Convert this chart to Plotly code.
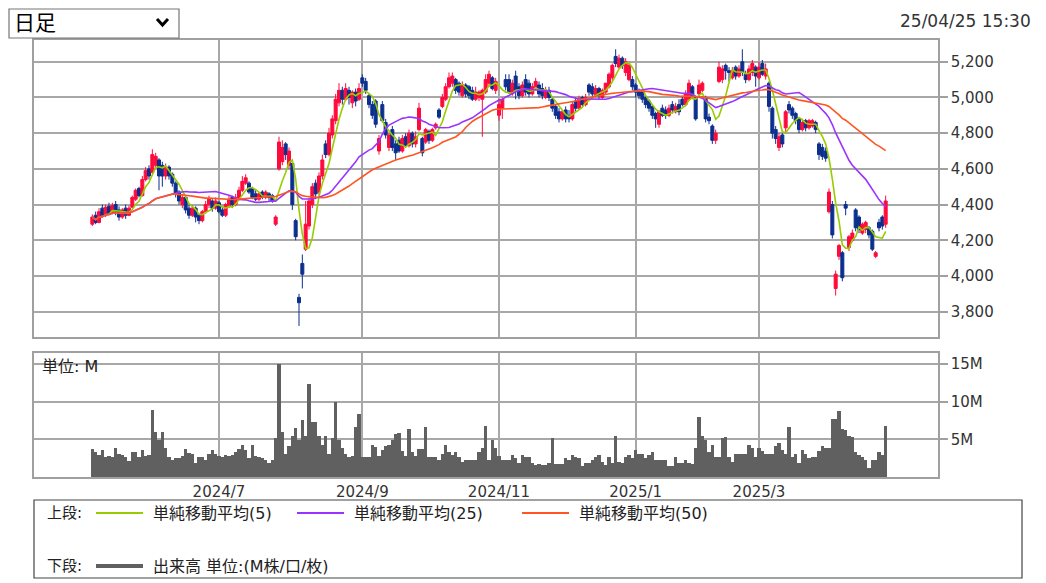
import pandas as pd
import plotly.graph_objects as go

# ---------------- data ----------------
holidays = ["2024-07-15", "2024-08-12", "2024-09-16", "2024-09-23", "2024-10-14",
            "2024-11-04", "2024-12-31", "2025-01-01", "2025-01-02", "2025-01-03",
            "2025-01-13", "2025-02-11", "2025-02-24", "2025-03-20"]
dates = [d.strftime("%Y-%m-%d") for d in pd.bdate_range("2024-05-08", "2025-04-25")
         if d.strftime("%Y-%m-%d") not in holidays]

opens = [
    4290, 4340, 4300, 4380, 4340, 4390, 4350, 4400, 4370, 4330,
    4380, 4340, 4385, 4430, 4490, 4450, 4540, 4600, 4580, 4620,
    4650, 4620, 4560, 4610, 4570, 4520, 4470, 4400, 4440, 4380,
    4340, 4380, 4340, 4310, 4360, 4400, 4420, 4380, 4410, 4370,
    4340, 4390, 4440, 4400, 4440, 4480, 4520, 4520, 4490, 4460,
    4430, 4470, 4440, 4460, 4450, 4290, 4600, 4640, 4740, 4620,
    4630, 4310, 3880, 4070, 4150, 4280, 4400, 4520, 4470, 4560,
    4740, 4680, 4790, 4870, 4970, 5040, 4990, 5040, 4970, 5030,
    4990, 5110, 5090, 5010, 4960, 4980, 4700, 4960, 4860, 4720,
    4820, 4740, 4760, 4700, 4780, 4730, 4800, 4740, 4820, 4770,
    4750, 4810, 4760, 4830, 4930, 4950, 4990, 5060, 5080, 5100,
    5080, 5010, 5070, 5060, 5040, 4990, 5000, 4990, 5030, 5080,
    5110, 5040, 4900, 4940, 5100, 5100, 5020, 5120, 5060, 5010,
    5100, 5080, 5020, 5050, 5070, 5050, 5000, 5040, 4990, 4950,
    4920, 4880, 4930, 4900, 4880, 4980, 4940, 5000, 4960, 5070,
    5060, 5010, 5050, 5000, 5030, 5060, 5110, 5230, 5170, 5220,
    5140, 5100, 5100, 5070, 5040, 5030, 5000, 4980, 4950, 4910,
    4850, 4940, 4930, 4900, 4960, 4920, 4960, 4990, 4960, 4990,
    5060, 5000, 5020, 5040, 5000, 4890, 4840, 4760, 5090, 5100,
    5180, 5150, 5110, 5170, 5120, 5200, 5130, 5100, 5140, 5170,
    5110, 5190, 5120, 5080, 4940, 4820, 4720, 4790, 4830, 4960,
    4940, 4910, 4880, 4820, 4870, 4830, 4840, 4860, 4740, 4720,
    4700, 4360, 4400, 3930, 4110, 4130, 4400, 4160, 4200, 4370,
    4330, 4240, 4260, 4270, 4250, 4110, 4300, 4330, 4290,
]
highs = [
    4345, 4360, 4380, 4400, 4400, 4410, 4410, 4420, 4390, 4380,
    4400, 4395, 4450, 4490, 4500, 4560, 4610, 4620, 4710, 4690,
    4660, 4640, 4630, 4620, 4580, 4530, 4480, 4460, 4450, 4400,
    4395, 4390, 4350, 4370, 4420, 4450, 4430, 4440, 4420, 4390,
    4410, 4450, 4450, 4460, 4500, 4560, 4570, 4530, 4500, 4480,
    4470, 4480, 4480, 4470, 4460, 4340, 4780, 4760, 4750, 4720,
    4640, 4320, 3900, 4120, 4420, 4440, 4520, 4540, 4580, 4680,
    4760, 4830, 4900, 5020, 5080, 5060, 5080, 5060, 5040, 5050,
    5080, 5130, 5110, 5020, 4980, 4990, 4790, 4980, 4880, 4800,
    4840, 4760, 4780, 4790, 4800, 4820, 4810, 4810, 4970, 4780,
    4830, 4820, 4830, 4860, 4940, 5020, 5080, 5140, 5140, 5110,
    5090, 5090, 5080, 5070, 5060, 5060, 5040, 5050, 5130, 5150,
    5120, 5110, 4990, 5000, 5130, 5130, 5100, 5150, 5080, 5090,
    5130, 5100, 5080, 5110, 5090, 5080, 5060, 5060, 5000, 4960,
    4940, 4930, 4950, 4930, 4980, 5000, 5010, 5010, 5020, 5080,
    5080, 5070, 5060, 5050, 5080, 5140, 5190, 5270, 5240, 5230,
    5220, 5200, 5120, 5080, 5050, 5040, 5010, 4990, 4960, 4920,
    4930, 4960, 4950, 4960, 4980, 4970, 4990, 5010, 5040, 5100,
    5070, 5010, 5100, 5090, 5010, 4910, 4850, 4820, 5200, 5180,
    5190, 5170, 5170, 5180, 5180, 5270, 5150, 5180, 5210, 5180,
    5200, 5210, 5190, 5090, 4950, 4840, 4800, 4800, 4930, 4980,
    4950, 4920, 4890, 4880, 4880, 4880, 4880, 4870, 4750, 4740,
    4720, 4490, 4420, 4030, 4180, 4140, 4420, 4230, 4260, 4380,
    4340, 4300, 4310, 4280, 4260, 4140, 4320, 4340, 4450,
]
lows = [
    4280, 4290, 4295, 4330, 4330, 4340, 4345, 4340, 4310, 4320,
    4320, 4335, 4380, 4420, 4440, 4445, 4530, 4540, 4570, 4600,
    4480, 4500, 4540, 4540, 4500, 4440, 4400, 4380, 4350, 4320,
    4330, 4300, 4290, 4300, 4350, 4380, 4360, 4370, 4350, 4330,
    4330, 4380, 4380, 4390, 4430, 4470, 4510, 4460, 4430, 4420,
    4420, 4430, 4430, 4420, 4410, 4280, 4590, 4620, 4650, 4600,
    4370, 4200, 3720, 3930, 4140, 4260, 4380, 4430, 4450, 4540,
    4660, 4670, 4770, 4850, 4950, 4960, 4980, 4960, 4940, 4950,
    4980, 5060, 5020, 4940, 4880, 4830, 4680, 4860, 4770, 4700,
    4700, 4650, 4690, 4690, 4720, 4720, 4720, 4720, 4810, 4670,
    4740, 4740, 4750, 4820, 4880, 4940, 4980, 5050, 5060, 5020,
    5010, 5000, 5000, 4990, 4980, 4980, 4980, 4780, 5020, 5060,
    5040, 5020, 4870, 4880, 5040, 5020, 5010, 4990, 4990, 5000,
    5010, 5000, 5010, 5040, 5000, 4990, 4990, 4980, 4920, 4880,
    4860, 4870, 4860, 4860, 4870, 4920, 4930, 4950, 4950, 5010,
    5000, 5000, 4990, 4990, 5020, 5050, 5090, 5170, 5160, 5160,
    5120, 5090, 5040, 5000, 4990, 4970, 4940, 4920, 4880, 4830,
    4830, 4890, 4880, 4890, 4910, 4910, 4900, 4950, 4950, 4980,
    4990, 4870, 5000, 5030, 4860, 4850, 4740, 4740, 5080, 5080,
    5100, 5090, 5100, 5100, 5110, 5120, 5080, 5090, 5120, 5060,
    5100, 5120, 5100, 4920, 4770, 4740, 4700, 4720, 4800, 4910,
    4880, 4850, 4800, 4810, 4810, 4820, 4830, 4800, 4650, 4650,
    4640, 4350, 4210, 3890, 4090, 3970, 4340, 4140, 4190, 4250,
    4240, 4230, 4240, 4210, 4140, 4100, 4250, 4260, 4270,
]
closes = [
    4330, 4300, 4360, 4340, 4385, 4350, 4395, 4360, 4330, 4370,
    4340, 4380, 4440, 4480, 4450, 4540, 4590, 4560, 4680, 4670,
    4560, 4560, 4610, 4560, 4520, 4460, 4420, 4440, 4370, 4340,
    4380, 4330, 4310, 4360, 4400, 4430, 4380, 4420, 4360, 4340,
    4400, 4430, 4400, 4440, 4480, 4530, 4550, 4470, 4440, 4430,
    4460, 4440, 4470, 4440, 4420, 4330, 4750, 4720, 4680, 4700,
    4400, 4220, 3850, 4010, 4290, 4420, 4500, 4460, 4560, 4650,
    4680, 4800, 4880, 4990, 5040, 4990, 5050, 5000, 5030, 4980,
    5050, 5080, 5040, 4960, 4900, 4850, 4770, 4870, 4790, 4790,
    4720, 4690, 4700, 4770, 4730, 4800, 4740, 4780, 4940, 4690,
    4820, 4760, 4820, 4850, 4890, 5000, 5060, 5110, 5120, 5040,
    5030, 5070, 5020, 5010, 4990, 5030, 5030, 5040, 5100, 5130,
    5050, 5090, 4960, 4990, 5060, 5030, 5080, 5040, 5010, 5070,
    5030, 5020, 5060, 5090, 5020, 5010, 5040, 5000, 4940, 4900,
    4880, 4920, 4880, 4880, 4960, 4940, 4990, 4960, 5000, 5030,
    5020, 5050, 5010, 5040, 5080, 5130, 5180, 5190, 5220, 5180,
    5200, 5180, 5060, 5030, 5010, 4990, 4960, 4940, 4900, 4880,
    4920, 4900, 4900, 4940, 4930, 4950, 4920, 4960, 5020, 5080,
    5010, 4880, 5070, 5080, 4880, 4870, 4760, 4800, 5170, 5160,
    5150, 5140, 5150, 5120, 5160, 5140, 5100, 5160, 5190, 5120,
    5170, 5130, 5160, 4950, 4800, 4770, 4780, 4740, 4920, 4930,
    4900, 4870, 4820, 4860, 4830, 4870, 4870, 4820, 4680, 4670,
    4660, 4470, 4230, 4010, 4170, 3990, 4380, 4220, 4240, 4270,
    4260, 4290, 4300, 4230, 4150, 4130, 4270, 4280, 4420,
]
volume_m = [
    3.7, 3.3, 2.9, 3.6, 2.7, 2.8, 2.6, 3.9, 3.1, 2.9,
    2.6, 2.1, 3.3, 3.3, 2.7, 3.6, 2.8, 2.9, 8.9, 6.0,
    4.9, 6.0, 3.8, 2.7, 2.3, 2.5, 2.5, 2.8, 3.7, 3.2,
    3.1, 1.9, 2.6, 2.7, 2.3, 3.1, 3.6, 3.0, 2.8, 2.7,
    2.9, 2.8, 2.9, 3.3, 3.7, 4.2, 3.6, 2.5, 4.2, 2.8,
    2.6, 2.5, 2.3, 1.8, 2.3, 5.2, 15.0, 6.0, 3.0, 4.1,
    5.4, 6.5, 4.9, 7.6, 5.5, 12.3, 7.3, 7.3, 5.5, 4.2,
    5.5, 3.1, 5.2, 10.0, 4.9, 3.8, 3.1, 2.6, 2.8, 6.7,
    8.3, 2.6, 2.6, 2.6, 4.3, 4.0, 2.8, 3.6, 4.1, 4.2,
    4.9, 5.7, 5.8, 3.5, 2.8, 6.4, 3.3, 2.8, 3.7, 3.7,
    6.6, 2.7, 2.7, 2.7, 2.2, 3.0, 4.3, 3.3, 2.9, 3.3,
    2.6, 2.0, 2.3, 2.2, 2.2, 2.2, 3.3, 3.8, 6.8, 2.3,
    4.9, 3.8, 2.8, 2.2, 2.2, 2.2, 2.9, 2.5, 1.8, 2.9,
    2.6, 2.6, 1.8, 1.6, 1.7, 1.6, 1.6, 1.8, 5.2, 1.7,
    1.7, 1.7, 2.5, 2.3, 2.9, 2.7, 2.5, 1.4, 1.8, 1.9,
    2.2, 2.6, 2.9, 2.0, 1.6, 2.6, 1.8, 5.4, 2.0, 1.8,
    2.6, 2.9, 2.5, 3.6, 3.0, 3.1, 2.5, 2.9, 3.3, 2.3,
    2.3, 2.3, 2.3, 1.5, 1.5, 2.6, 1.9, 1.9, 2.3, 1.9,
    1.7, 3.9, 8.0, 5.5, 4.9, 3.3, 4.3, 2.7, 2.7, 5.2,
    5.3, 2.6, 2.0, 3.0, 3.0, 3.0, 3.0, 4.3, 3.8, 2.6,
    3.8, 3.5, 3.1, 3.1, 3.0, 4.1, 4.5, 3.6, 3.0, 6.6,
    2.7, 3.0, 1.9, 3.6, 3.1, 2.5, 2.7, 2.7, 3.4, 4.1,
    3.8, 3.8, 7.7, 7.7, 8.8, 6.4, 6.2, 5.5, 5.3, 3.3,
    2.9, 2.6, 2.3, 1.2, 2.3, 2.3, 3.3, 2.9, 6.8,
]
ma_periods = [5, 25, 50]
ma_names = ["単純移動平均(5)", "単純移動平均(25)", "単純移動平均(50)"]
tick_dates = ["2024-07-01", "2024-09-02", "2024-11-01", "2025-01-06", "2025-03-03"]
tick_labels = ["2024/7", "2024/9", "2024/11", "2025/1", "2025/3"]
price_ticks = [3800, 4000, 4200, 4400, 4600, 4800, 5000, 5200]
vol_ticks = [5, 10, 15]
vol_tick_labels = ["5M", "10M", "15M"]

# ---------------- style ----------------
W, H = 1046, 583
L, R, T, B = 34, 938, 40, 477
UP, DOWN = "#FF0A3C", "#0C2F8E"
MA_COLORS = ["#99CC00", "#9933FF", "#FF5522"]
VOL_COLOR = "#606060"
GRID = "#A8A8A8"
FONT = "DejaVu Sans, Noto Sans CJK JP"


def px(x):
    return (x - L) / (R - L)


def py(y):
    return (B - y) / (B - T)


close_s = pd.Series(closes)
mas = [close_s.rolling(p, min_periods=1).mean().round(1).tolist() for p in ma_periods]

fig = go.Figure()
fig.add_trace(go.Candlestick(
    x=dates, open=opens, high=highs, low=lows, close=closes,
    increasing=dict(line=dict(color=UP, width=1), fillcolor=UP),
    decreasing=dict(line=dict(color=DOWN, width=1), fillcolor=DOWN),
    whiskerwidth=0, showlegend=False, xaxis="x", yaxis="y"))
for m, c, n in zip(mas, MA_COLORS, ma_names):
    fig.add_trace(go.Scatter(x=dates, y=m, mode="lines", name=n,
                             line=dict(color=c, width=1.6), showlegend=False,
                             xaxis="x", yaxis="y"))
fig.add_trace(go.Bar(x=dates, y=volume_m, marker=dict(color=VOL_COLOR, line=dict(width=0)),
                     showlegend=False, xaxis="x2", yaxis="y2"))

xr = [-17.5, len(dates) - 1 + 15.7]
axis_common = dict(showline=True, mirror=True, linecolor="#A0A0A0", linewidth=1.5,
                   showgrid=True, gridcolor=GRID, gridwidth=1.5, zeroline=False)
tickfont = dict(family="DejaVu Sans", size=15, color="#333")
fig.update_layout(
    width=W, height=H,
    margin=dict(l=L, r=W - R, t=T, b=H - B),
    paper_bgcolor="white", plot_bgcolor="white",
    font=dict(family=FONT, size=15, color="#222"),
    bargap=0, boxgap=0.1, boxgroupgap=0,
    xaxis=dict(type="category", range=xr, tickvals=tick_dates, ticktext=tick_labels,
               showticklabels=False, ticks="", domain=[0, 1], anchor="y",
               rangeslider=dict(visible=False), **axis_common),
    yaxis=dict(domain=[py(337), 1], range=[3658, 5322], side="right",
               tickvals=price_ticks, tickformat=",", ticks="outside", ticklen=8,
               tickcolor="#A0A0A0", tickwidth=1.5, anchor="x",
               tickfont=tickfont, **axis_common),
    xaxis2=dict(type="category", range=xr, tickvals=tick_dates, ticktext=tick_labels,
                matches="x", ticks="", anchor="y2", domain=[0, 1],
                tickfont=tickfont, **axis_common),
    yaxis2=dict(domain=[0, py(353)], range=[0, 16.45], side="right",
                tickvals=vol_ticks, ticktext=vol_tick_labels, ticks="outside", ticklen=8,
                tickcolor="#A0A0A0", tickwidth=1.5, anchor="x2",
                tickfont=tickfont, **axis_common),
)

shapes = []
annots = []
# dropdown box
shapes.append(dict(type="rect", xref="paper", yref="paper", x0=px(9), x1=px(179),
                   y0=py(38), y1=py(9), line=dict(color="#767676", width=1.2),
                   fillcolor="white", layer="above"))
shapes.append(dict(type="path", xref="paper", yref="paper",
                   path=f"M {px(157)} {py(19)} L {px(162.5)} {py(25)} L {px(168)} {py(19)}",
                   line=dict(color="black", width=3)))
annots.append(dict(text="日足", x=px(12), y=py(23), xref="paper", yref="paper",
                   xanchor="left", yanchor="middle", showarrow=False,
                   font=dict(size=21, color="black")))
annots.append(dict(text="25/04/25 15:30", x=px(1033), y=py(21), xref="paper", yref="paper",
                   xanchor="right", yanchor="middle", showarrow=False,
                   font=dict(family="DejaVu Sans", size=17, color="#333")))
annots.append(dict(text="単位: M", x=px(40), y=py(366), xref="paper", yref="paper",
                   xanchor="left", yanchor="middle", showarrow=False,
                   font=dict(size=16, color="#222")))
# legend box
shapes.append(dict(type="rect", xref="paper", yref="paper", x0=px(34), x1=px(1022),
                   y0=py(578), y1=py(500), line=dict(color="#444", width=1.2)))
annots.append(dict(text="上段:", x=px(45), y=py(513), xref="paper", yref="paper",
                   xanchor="left", yanchor="middle", showarrow=False, font=dict(size=15)))
annots.append(dict(text="下段:", x=px(45), y=py(566), xref="paper", yref="paper",
                   xanchor="left", yanchor="middle", showarrow=False, font=dict(size=15)))
leg_lines = [(96, 143, 151), (297, 344, 352), (522, 569, 577)]
for (a, b, t), c, n in zip(leg_lines, MA_COLORS, ma_names):
    shapes.append(dict(type="line", xref="paper", yref="paper", x0=px(a), x1=px(b),
                       y0=py(513), y1=py(513), line=dict(color=c, width=2)))
    annots.append(dict(text=n, x=px(t), y=py(513), xref="paper", yref="paper",
                       xanchor="left", yanchor="middle", showarrow=False, font=dict(size=16)))
shapes.append(dict(type="line", xref="paper", yref="paper", x0=px(96), x1=px(143),
                   y0=py(566), y1=py(566), line=dict(color=VOL_COLOR, width=4)))
annots.append(dict(text="出来高 単位:(M株/口/枚)", x=px(151), y=py(566), xref="paper",
                   yref="paper", xanchor="left", yanchor="middle", showarrow=False,
                   font=dict(size=16)))
fig.update_layout(shapes=shapes, annotations=annots)

fig.write_html("out.html", config={"displayModeBar": False},
               post_script="document.body.style.margin='0';")
